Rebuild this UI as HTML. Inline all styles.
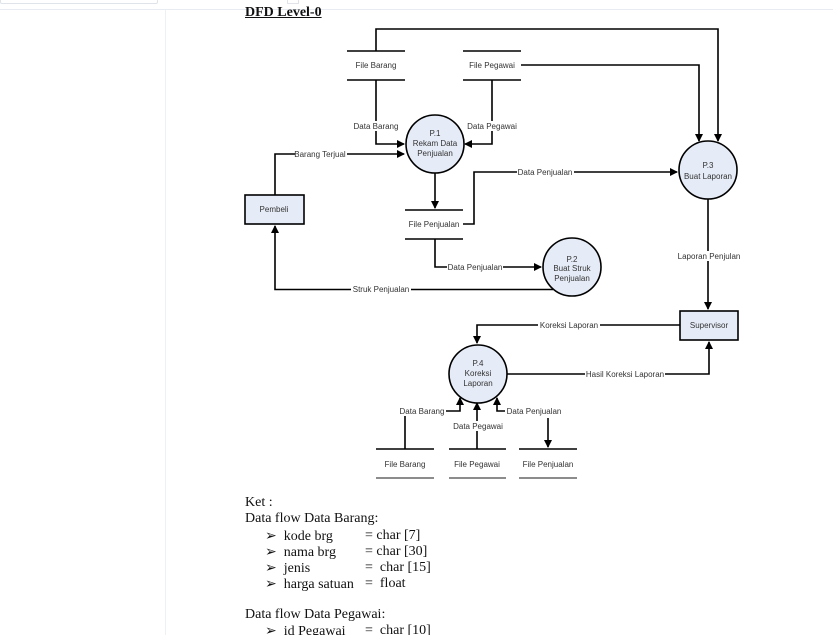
<!DOCTYPE html>
<html><head><meta charset="utf-8"><style>
html,body{margin:0;padding:0;background:#fff;width:833px;height:635px;overflow:hidden;position:relative}
.t{position:absolute;font-family:"Liberation Serif",serif;font-size:14px;color:#111;white-space:pre}
svg text{font-family:"Liberation Sans",sans-serif;font-size:8px;fill:#333}
</style></head><body>
<div style="position:absolute;left:0;top:0;width:833px;height:9px;border-bottom:1px solid #e8ecf2"></div>
<div style="position:absolute;left:0;top:-2px;width:156px;height:4px;border:1px solid #e0e4ea;border-radius:2px"></div>
<div style="position:absolute;left:287px;top:-2px;width:10px;height:4px;border:1px solid #e0e4ea"></div>
<div style="position:absolute;left:165px;top:10px;width:1px;height:625px;background:#eef0f4"></div>
<div class="t" style="left:245px;top:5px;font-weight:bold;text-decoration:underline">DFD Level-0</div>
<svg width="833" height="635" style="position:absolute;left:0;top:0">
<defs><marker id="a" markerWidth="8" markerHeight="8" refX="7" refY="4" orient="auto" markerUnits="userSpaceOnUse"><path d="M0,0L8,4L0,8z" fill="#000"/></marker></defs>
<g stroke="#000" stroke-width="1.6" fill="none">
<polyline points="376,51 376,29 718,29 718,141" marker-end="url(#a)"/>
<polyline points="521,65 699,65 699,141" marker-end="url(#a)"/>
<polyline points="376,80 376,144 404,144" marker-end="url(#a)"/>
<polyline points="492,80 492,144 465,144" marker-end="url(#a)"/>
<polyline points="275,195 275,154 404,154" marker-end="url(#a)"/>
<polyline points="435,173 435,208" marker-end="url(#a)"/>
<polyline points="463,224 474,224 474,172 677,172" marker-end="url(#a)"/>
<polyline points="435,239 435,267 541,267" marker-end="url(#a)"/>
<polyline points="553,289.5 275,289.5 275,226" marker-end="url(#a)"/>
<polyline points="708,199 708,309" marker-end="url(#a)"/>
<polyline points="680,325 477,325 477,343" marker-end="url(#a)"/>
<polyline points="507,374 709,374 709,342" marker-end="url(#a)"/>
<polyline points="405,449 405,411 460,411 460,398" marker-end="url(#a)"/>
<polyline points="477,449 477,403" marker-end="url(#a)"/>
<polyline points="505,411 497,411 497,398" marker-end="url(#a)"/>
<polyline points="548,418 548,447" marker-end="url(#a)"/>
</g>
<g stroke="#000" stroke-width="1.6">
<line x1="347" y1="51" x2="405" y2="51"/><line x1="347" y1="80" x2="405" y2="80"/>
<line x1="463" y1="51" x2="521" y2="51"/><line x1="463" y1="80" x2="521" y2="80"/>
<line x1="405" y1="210" x2="463" y2="210"/><line x1="405" y1="239" x2="463" y2="239"/>
<line x1="376" y1="449" x2="434" y2="449"/><line x1="449" y1="449" x2="506" y2="449"/><line x1="519" y1="449" x2="577" y2="449"/>
</g>
<g stroke="#666" stroke-width="1.6">
<line x1="376" y1="478" x2="434" y2="478"/><line x1="449" y1="478" x2="506" y2="478"/><line x1="519" y1="478" x2="577" y2="478"/>
</g>
<g fill="#e6ecf7" stroke="#000" stroke-width="1.6">
<circle cx="435" cy="144" r="29"/><circle cx="708" cy="170" r="29"/><circle cx="572" cy="267" r="29"/><circle cx="478" cy="374" r="29"/>
<rect x="245" y="195" width="59" height="29"/><rect x="680" y="311" width="58" height="29"/>
</g>
<g fill="#fff">
<rect x="352" y="121" width="48" height="10"/><rect x="466" y="121" width="52" height="10"/>
<rect x="295" y="149" width="52" height="10"/><rect x="517" y="167" width="57" height="10"/>
<rect x="447" y="262" width="56" height="10"/><rect x="351" y="284" width="60" height="10"/>
<rect x="677" y="251" width="64" height="10"/><rect x="538" y="320" width="62" height="10"/>
<rect x="585" y="369" width="80" height="10"/><rect x="398" y="406" width="48" height="10"/>
<rect x="505" y="406" width="58" height="10"/><rect x="452" y="421" width="52" height="10"/>
</g>
<g text-anchor="middle">
<text x="376" y="68">File Barang</text><text x="492" y="68">File Pegawai</text>
<text x="434" y="227">File Penjualan</text>
<text x="405" y="467">File Barang</text><text x="477" y="467">File Pegawai</text><text x="548" y="467">File Penjualan</text>
<text x="376" y="129">Data Barang</text><text x="492" y="129">Data Pegawai</text>
<text x="320" y="157">Barang Terjual</text><text x="545" y="175">Data Penjualan</text>
<text x="475" y="270">Data Penjualan</text><text x="381" y="292">Struk Penjualan</text>
<text x="709" y="259">Laporan Penjulan</text><text x="569" y="328">Koreksi Laporan</text>
<text x="625" y="377">Hasil Koreksi Laporan</text><text x="422" y="414">Data Barang</text>
<text x="534" y="414">Data Penjualan</text><text x="478" y="429">Data Pegawai</text>
<text x="274" y="212">Pembeli</text><text x="709" y="328">Supervisor</text>
<text x="435" y="136">P.1</text><text x="435" y="146">Rekam Data</text><text x="435" y="156">Penjualan</text>
<text x="708" y="168">P.3</text><text x="708" y="179">Buat Laporan</text>
<text x="572" y="262">P.2</text><text x="572" y="271">Buat Struk</text><text x="572" y="281">Penjualan</text>
<text x="478" y="366">P.4</text><text x="478" y="376">Koreksi</text><text x="478" y="386">Laporan</text>
</g>
</svg>
<div class="t" style="left:245px;top:495px">Ket :</div>
<div class="t" style="left:245px;top:511px">Data flow Data Barang:</div>
<div class="t" style="left:265px;top:528px">➢  kode brg</div><div class="t" style="left:365px;top:528px">= char [7]</div>
<div class="t" style="left:265px;top:544px">➢  nama brg</div><div class="t" style="left:365px;top:544px">= char [30]</div>
<div class="t" style="left:265px;top:560px">➢  jenis</div><div class="t" style="left:365px;top:560px">=  char [15]</div>
<div class="t" style="left:265px;top:576px">➢  harga satuan</div><div class="t" style="left:365px;top:576px">=  float</div>
<div class="t" style="left:245px;top:607px">Data flow Data Pegawai:</div>
<div class="t" style="left:265px;top:623px">➢  id Pegawai</div><div class="t" style="left:365px;top:623px">=  char [10]</div>
</body></html>
